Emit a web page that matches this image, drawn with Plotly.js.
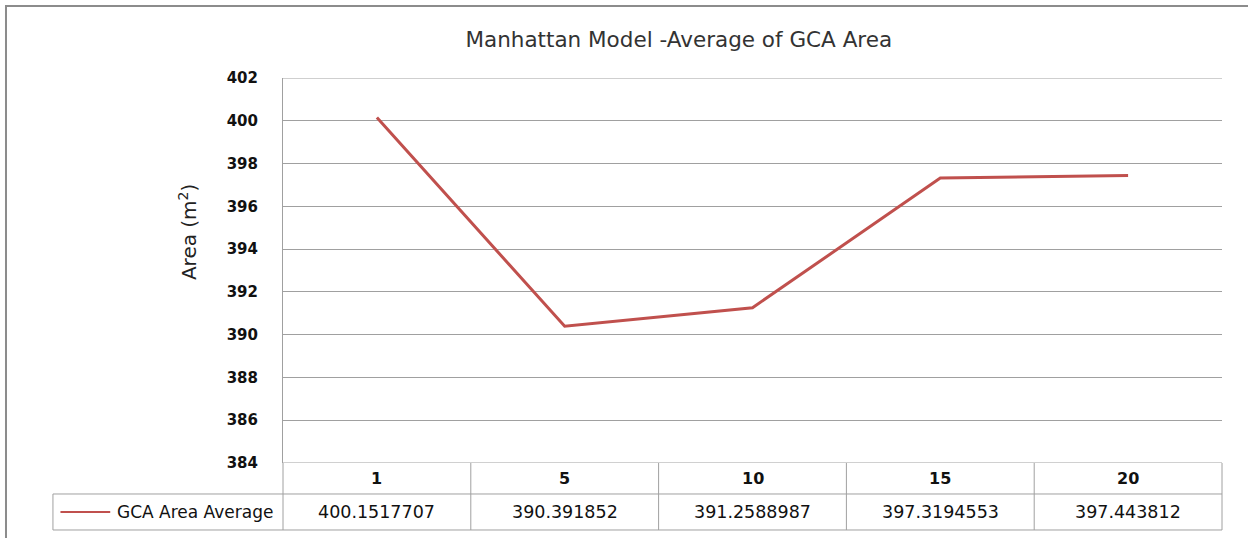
<!DOCTYPE html>
<html>
<head>
<meta charset="utf-8">
<script src="https://cdn.plot.ly/plotly-3.0.1.min.js"></script>
<style>
html,body{margin:0;padding:0;background:#fff;}
#chart{width:1248px;height:538px;}
</style>
</head>
<body>
<div id="chart"></div>
<script>
// ---- data ----
const chartTitle = "Manhattan Model -Average of GCA Area";
const yAxisTitle = "Area (m<sup>2</sup>)";
const seriesName = "GCA Area Average";
const categories = ["1", "5", "10", "15", "20"];
const areaValues = [400.1517707, 390.391852, 391.2588987, 397.3194553, 397.443812];
const valueLabels = ["400.1517707", "390.391852", "391.2588987", "397.3194553", "397.443812"];
const yTicks = [384, 386, 388, 390, 392, 394, 396, 398, 400, 402];
const yMin = 384, yMax = 402;

// ---- styling ----
const lineColor = "#C0504D";
const gridColor = "#A0A0A0";
const fontFam = "DejaVu Sans, sans-serif";

// table geometry (paper units relative to plot area)
const rowHeader = -0.0805;   // bottom of header row
const rowData = -0.174;      // bottom of data row
const legendLeft = -0.245;   // left edge of legend cell

const n = categories.length;
const shapes = [];
const annotations = [];

// top and bottom gridlines (edge lines of the plot area)
[yMin, yMax].forEach(v => {
  shapes.push({type: "line", xref: "paper", yref: "y",
    x0: 0, x1: 1, y0: v, y1: v, line: {color: gridColor, width: 1}});
});
// header row: vertical separators
for (let i = 0; i <= n; i++) {
  shapes.push({type: "line", xref: "paper", yref: "paper",
    x0: i / n, x1: i / n, y0: 0, y1: rowData,
    line: {color: gridColor, width: 1}});
}
// horizontal lines of data row
[rowHeader, rowData].forEach(y => {
  shapes.push({type: "line", xref: "paper", yref: "paper",
    x0: legendLeft, x1: 1, y0: y, y1: y,
    line: {color: gridColor, width: 1}});
});
// left edge of legend cell
shapes.push({type: "line", xref: "paper", yref: "paper",
  x0: legendLeft, x1: legendLeft, y0: rowHeader, y1: rowData,
  line: {color: gridColor, width: 1}});
// legend key line
shapes.push({type: "line", xref: "paper", yref: "paper",
  x0: legendLeft + 0.008, x1: legendLeft + 0.061,
  y0: (rowHeader + rowData) / 2, y1: (rowHeader + rowData) / 2,
  line: {color: lineColor, width: 2}});
// outer chart border
shapes.push({type: "rect", xref: "paper", yref: "paper",
  x0: -0.295, x1: 1.2, y0: -0.5, y1: 1.187,
  line: {color: "#8C8C8C", width: 2}, fillcolor: "rgba(0,0,0,0)"});

// header labels and values
categories.forEach((c, i) => {
  annotations.push({xref: "x", yref: "paper", x: i, y: rowHeader / 2,
    text: "<b>" + c + "</b>", showarrow: false, xanchor: "center", yanchor: "middle",
    font: {family: fontFam, size: 16, color: "#111"}});
  annotations.push({xref: "x", yref: "paper", x: i, y: (rowHeader + rowData) / 2,
    text: valueLabels[i], showarrow: false, xanchor: "center", yanchor: "middle",
    font: {family: fontFam, size: 17.5, color: "#111"}});
});
// legend text
annotations.push({xref: "paper", yref: "paper", x: legendLeft + 0.066,
  y: (rowHeader + rowData) / 2, text: seriesName, showarrow: false,
  xanchor: "left", yanchor: "middle",
  font: {family: fontFam, size: 17, color: "#111"}});
// y axis title
annotations.push({xref: "paper", yref: "paper", x: -0.1011, y: 0.6,
  text: yAxisTitle, showarrow: false, textangle: -90,
  xanchor: "center", yanchor: "middle",
  font: {family: fontFam, size: 20, color: "#222"}});

const trace = {
  x: categories,
  y: areaValues,
  type: "scatter",
  mode: "lines",
  name: seriesName,
  line: {color: lineColor, width: 3}
};

const layout = {
  width: 1248, height: 538,
  margin: {l: 283, r: 26, t: 78, b: 75},
  paper_bgcolor: "#fff", plot_bgcolor: "#fff",
  showlegend: false,
  title: {
    text: chartTitle, xref: "paper", x: 0.4215, xanchor: "center",
    yref: "container", y: 0.926, yanchor: "middle",
    font: {family: fontFam, size: 21.5, color: "#333"}
  },
  xaxis: {
    type: "category", categoryarray: categories, range: [-0.5, n - 0.5],
    showticklabels: false, showgrid: false, zeroline: false, showline: false, ticks: ""
  },
  yaxis: {
    range: [yMin, yMax], tickvals: yTicks, ticktext: yTicks.map(String),
    showgrid: true, gridcolor: gridColor, gridwidth: 1,
    zeroline: false, showline: true, linecolor: gridColor, linewidth: 1,
    ticks: "", ticklabelstandoff: 21,
    tickfont: {family: fontFam, size: 15, color: "#111", weight: "bold"},
    automargin: false
  },
  shapes: shapes,
  annotations: annotations
};

Plotly.newPlot("chart", [trace], layout, {displayModeBar: false, staticPlot: true});
</script>
</body>
</html>
